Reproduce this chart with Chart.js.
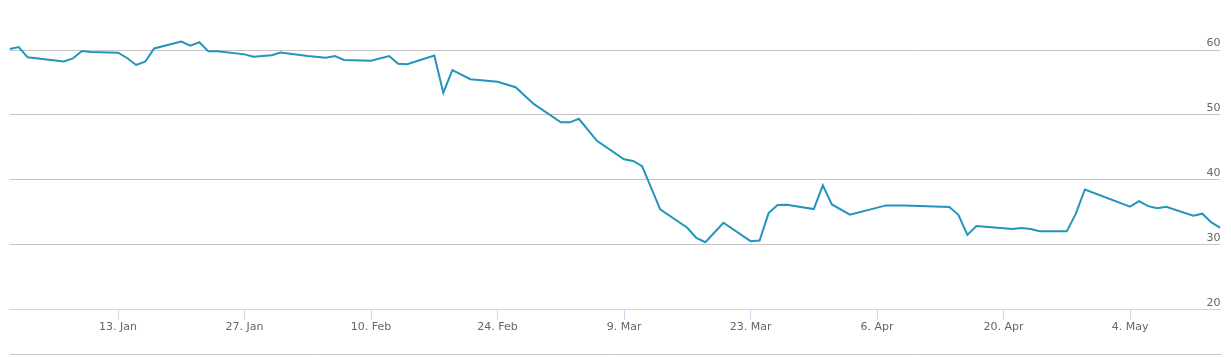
<!DOCTYPE html>
<html>
<head>
<meta charset="utf-8">
<script src="https://cdn.jsdelivr.net/npm/chart.js@4/dist/chart.umd.min.js"></script>
<style>
html,body{margin:0;padding:0;background:#fff;}
#wrap{position:relative;width:1231px;height:357px;}
</style>
</head>
<body>
<div id="wrap"><canvas id="c" width="1231" height="357"></canvas></div>
<script>
const dates = [
 '2020-01-01','2020-01-02','2020-01-03','2020-01-07','2020-01-08','2020-01-09','2020-01-10',
 '2020-01-13','2020-01-14','2020-01-15','2020-01-16','2020-01-17','2020-01-20','2020-01-21',
 '2020-01-22','2020-01-23','2020-01-24','2020-01-27','2020-01-28','2020-01-30','2020-01-31',
 '2020-02-03','2020-02-05','2020-02-06','2020-02-07','2020-02-10','2020-02-12','2020-02-13',
 '2020-02-14','2020-02-17','2020-02-18','2020-02-19','2020-02-21','2020-02-24','2020-02-26',
 '2020-02-28','2020-03-02','2020-03-03','2020-03-04','2020-03-06','2020-03-09','2020-03-10',
 '2020-03-11','2020-03-13','2020-03-16','2020-03-17','2020-03-18','2020-03-20','2020-03-23',
 '2020-03-24','2020-03-25','2020-03-26','2020-03-27','2020-03-30','2020-03-31','2020-04-01',
 '2020-04-03','2020-04-07','2020-04-09','2020-04-14','2020-04-15','2020-04-16','2020-04-17',
 '2020-04-21','2020-04-22','2020-04-23','2020-04-24','2020-04-27','2020-04-28','2020-04-29',
 '2020-05-04','2020-05-05','2020-05-06','2020-05-07','2020-05-08','2020-05-11','2020-05-12',
 '2020-05-13','2020-05-14'
];
const prices = [
 60.15,60.46,58.87,58.25,58.7,59.85,59.7,
 59.6,58.77,57.7,58.2,60.25,61.3,60.67,
 61.2,59.8,59.8,59.33,58.97,59.2,59.6,
 59.07,58.82,59.07,58.46,58.35,59.07,57.9,
 57.8,59.15,53.42,56.9,55.5,55.1,54.27,
 51.7,48.85,48.85,49.4,46.0,43.17,42.9,
 42.1,35.44,32.6,31.05,30.37,33.37,30.53,
 30.63,34.86,36.1,36.16,35.48,39.15,36.2,
 34.63,36.05,36.05,35.8,34.6,31.5,32.86,
 32.4,32.55,32.4,32.05,32.05,34.77,38.5,
 35.85,36.7,35.94,35.6,35.85,34.46,34.77,
 33.43,32.6
];
const tickDates = ['2020-01-13','2020-01-27','2020-02-10','2020-02-24','2020-03-09','2020-03-23','2020-04-06','2020-04-20','2020-05-04'];
const tickLabels = ['13. Jan','27. Jan','10. Feb','24. Feb','9. Mar','23. Mar','6. Apr','20. Apr','4. May'];
const yTicks = [20,30,40,50,60];
const rangeStart = '2020-01-01';
const rangeEnd = '2020-05-14';

const DAY = 86400000;
const base = Date.parse(rangeStart + 'T00:00:00Z');
const toDay = s => Math.round((Date.parse(s + 'T00:00:00Z') - base) / DAY);
const points = dates.map((d, i) => ({x: toDay(d), y: prices[i]}));
const tickDays = tickDates.map(toDay);

const navLine = {
  id: 'navLine',
  afterDraw(chart) {
    const ctx = chart.ctx;
    const a = chart.chartArea;
    ctx.save();
    ctx.strokeStyle = '#c8c8c8';
    ctx.lineWidth = 1;
    ctx.beginPath();
    ctx.moveTo(a.left, 354.5);
    ctx.lineTo(a.right + 1, 354.5);
    ctx.stroke();
    ctx.restore();
  }
};

new Chart(document.getElementById('c'), {
  type: 'line',
  data: {
    datasets: [{
      data: points,
      borderColor: '#2394bb',
      borderWidth: 2,
      pointRadius: 0,
      tension: 0,
      fill: false
    }]
  },
  options: {
    responsive: false,
    animation: false,
    events: [],
    layout: {padding: {left: 9.6, right: 10.6, top: 17.6, bottom: 22.3}},
    plugins: {legend: {display: false}, tooltip: {enabled: false}},
    scales: {
      x: {
        type: 'linear',
        min: toDay(rangeStart),
        max: toDay(rangeEnd),
        afterBuildTicks: s => { s.ticks = tickDays.map(v => ({value: v})); },
        ticks: {
          callback: (v) => { const i = tickDays.indexOf(v); return i >= 0 ? tickLabels[i] : ''; },
          color: '#666666',
          font: {family: 'DejaVu Sans', size: 11},
          padding: 1,
          maxRotation: 0,
          autoSkip: false
        },
        grid: {drawOnChartArea: false, drawTicks: true, tickLength: 10, color: '#ccd6eb', tickColor: '#ccd6eb'},
        border: {display: true, color: '#ccd6eb', width: 1}
      },
      y: {
        position: 'right',
        min: 20,
        max: 65,
        afterBuildTicks: s => { s.ticks = yTicks.map(v => ({value: v})); },
        ticks: {
          mirror: true,
          padding: 0,
          labelOffset: -6.5,
          color: '#666666',
          font: {family: 'DejaVu Sans', size: 11}
        },
        grid: {
          drawTicks: false,
          color: ctx => (ctx.tick && ctx.tick.value === 20) ? 'rgba(0,0,0,0)' : '#c4c4c4'
        },
        border: {display: false}
      }
    }
  },
  plugins: [navLine]
});
</script>
</body>
</html>
